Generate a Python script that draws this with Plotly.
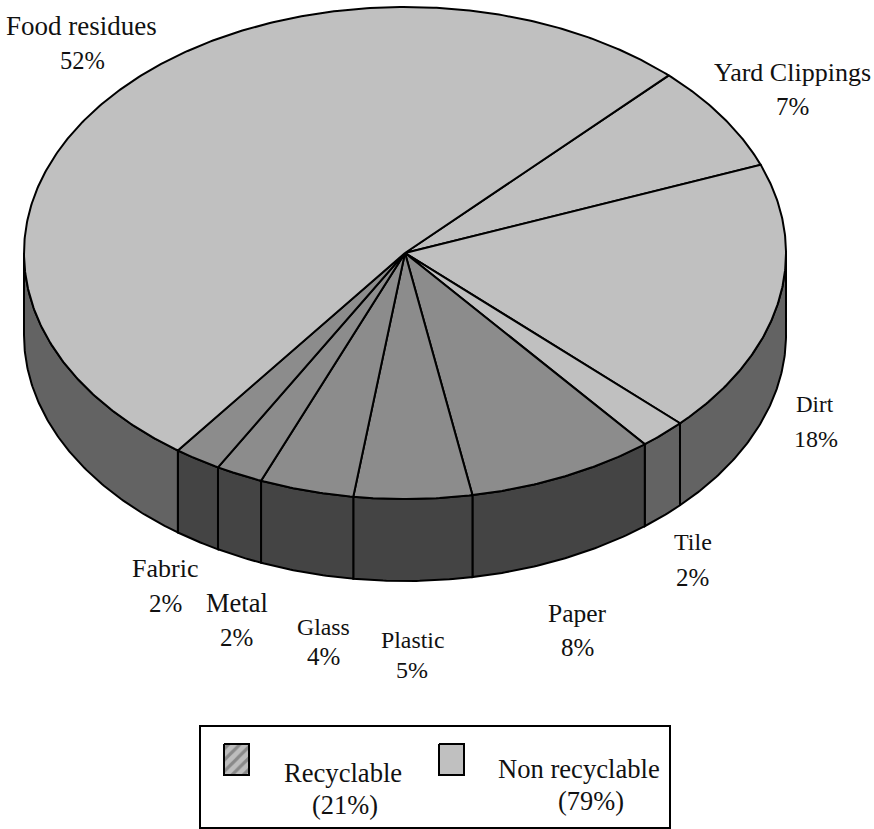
import math
import plotly.graph_objects as go

# Waste composition, in percent, clockwise from the Food residues / Yard Clippings edge
categories = ["Yard Clippings", "Dirt", "Tile", "Paper", "Plastic", "Glass", "Metal", "Fabric", "Food residues"]
shares = [7, 18, 2, 8, 5, 4, 2, 2, 52]
recyclable = ["Paper", "Plastic", "Glass", "Metal", "Fabric"]

legend_names = ["Recyclable", "Non recyclable"]
legend_shares = [21, 79]

# Projected disc geometry
CX, CY, RX, RY, DEPTH = 405, 253, 381, 246, 82
START_DEG = 46.2

TOP = {True: "#8c8c8c", False: "#c0c0c0"}
WALL = {True: "#444444", False: "#636363"}
FONT = "Liberation Serif, Times New Roman, serif"

# Label placement per slice: name centre, name size, percentage centre, percentage size
label_pos = {
    "Food residues": ((81, 26), 27, (82, 60), 24.5),
    "Yard Clippings": ((792, 72), 26, (792, 106), 25),
    "Dirt": ((815, 404), 23, (816, 439), 24),
    "Tile": ((693, 542), 24, (692, 577), 25),
    "Paper": ((577, 613), 25.5, (577, 647), 25),
    "Plastic": ((412, 640), 23.8, (412, 670), 24),
    "Glass": ((323, 627), 23.8, (323, 656), 25),
    "Metal": ((237, 603), 26.5, (236, 637), 25),
    "Fabric": ((165, 568), 26, (165, 603), 25),
}


def rim(deg, drop=0.0):
    a = math.radians(deg)
    return CX + RX * math.cos(a), CY - RY * math.sin(a) + drop


def arc(a0, a1, drop=0.0):
    n = max(2, int(abs(a1 - a0) * 2))
    return [rim(a0 + (a1 - a0) * i / n, drop) for i in range(n + 1)]


fig = go.Figure()


def polygon(points, fill, width=2):
    fig.add_trace(go.Scatter(
        x=[p[0] for p in points], y=[p[1] for p in points],
        mode="lines", fill="toself", fillcolor=fill,
        line=dict(color="#000000", width=width),
        hoverinfo="skip", showlegend=False,
    ))


# Turn the shares into slice spans, running clockwise
spans = []
angle = START_DEG
for name, share in zip(categories, shares):
    end = angle - share * 3.6
    spans.append((name, angle, end))
    angle = end

# Side wall: only the part of each slice on the front half of the disc is visible
for name, a0, a1 in spans:
    s, e = min(a0, 0), max(a1, -180)
    if s > e:
        pts = arc(s, e) + arc(e, s, DEPTH)
        polygon(pts + [pts[0]], WALL[name in recyclable])

# Top face
for name, a0, a1 in spans:
    pts = [(CX, CY)] + arc(a0, a1)
    polygon(pts + [pts[0]], TOP[name in recyclable])

shapes = [dict(type="rect", x0=200, y0=726, x1=670, y1=828,
               line=dict(color="#000000", width=2), fillcolor="rgba(0,0,0,0)", layer="below")]

# Legend swatches
for x0, pattern in ((224, "/"), (439, "")):
    sx = [x0, x0 + 25, x0 + 25, x0, x0]
    sy = [744, 744, 775, 775, 744]
    fig.add_trace(go.Scatter(
        x=sx, y=sy, mode="lines", fill="toself",
        fillcolor="#b4b4b4" if pattern else "#c0c0c0",
        fillpattern=dict(shape=pattern, bgcolor="#bdbdbd", fgcolor="#555555",
                         size=8, solidity=0.4) if pattern else None,
        line=dict(color="#000000", width=2),
        hoverinfo="skip", showlegend=False,
    ))

annotations = []


def text(x, y, s, size):
    annotations.append(dict(x=x, y=y, text=s, showarrow=False, xanchor="center", yanchor="middle",
                            xref="x", yref="y", font=dict(family=FONT, size=size, color="#111111")))


for name, share in zip(categories, shares):
    p1, s1, p2, s2 = label_pos[name]
    text(*p1, name, s1)
    text(*p2, f"{share}%", s2)

legend_pos = [((342.5, 773), (345, 805)), ((579, 769), (591, 801))]
for name, share, (p1, p2) in zip(legend_names, legend_shares, legend_pos):
    text(*p1, name, 26.6)
    text(*p2, f"({share}%)", 26.4)

fig.update_layout(
    width=874, height=829, margin=dict(l=0, r=0, t=0, b=0, pad=0),
    paper_bgcolor="#ffffff", plot_bgcolor="#ffffff", showlegend=False,
    xaxis=dict(range=[0, 874], visible=False, fixedrange=True),
    yaxis=dict(range=[829, 0], visible=False, fixedrange=True),
    shapes=shapes, annotations=annotations,
)

fig.write_html("out.html", config={"displayModeBar": False})
